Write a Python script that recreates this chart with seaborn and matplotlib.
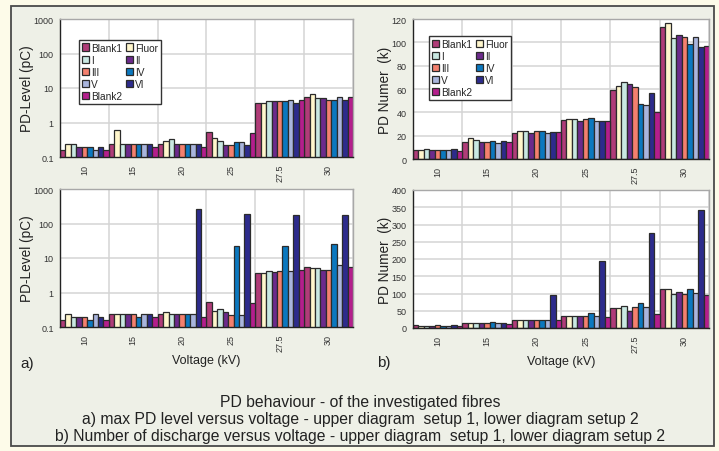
import matplotlib
matplotlib.use("Agg")
import matplotlib.pyplot as plt
import matplotlib.patches as mpatches
from matplotlib.ticker import MultipleLocator, LogLocator, NullFormatter
import seaborn as sns
import pandas as pd

voltages = ["10", "15", "20", "25", "27.5", "30"]
samples = ["Blank1", "Fluor", "I", "II", "III", "IV", "V", "VI", "Blank2"]
sample_colors = ["#b03c78", "#fff6cc", "#c9e8e2", "#6c2a8c", "#f4806e",
                 "#0b78bf", "#a9b5dd", "#2d2b8c", "#b41e8c"]

# one row per voltage, one value per sample (same order as `samples`)
level_setup1 = [
    [0.16, 0.24, 0.24, 0.19, 0.19, 0.19, 0.16, 0.19, 0.16],
    [0.24, 0.59, 0.24, 0.24, 0.24, 0.24, 0.24, 0.24, 0.19],
    [0.24, 0.30, 0.34, 0.24, 0.24, 0.24, 0.24, 0.24, 0.19],
    [0.54, 0.36, 0.30, 0.23, 0.23, 0.27, 0.27, 0.23, 0.50],
    [3.7, 3.7, 4.3, 4.2, 4.2, 4.3, 4.6, 3.7, 4.4],
    [5.4, 6.7, 5.0, 5.0, 4.4, 4.6, 5.4, 4.6, 5.6],
]
number_setup1 = [
    [8, 7.5, 8.5, 7.5, 8, 8, 7.5, 8.5, 6.5],
    [15, 18, 16, 15, 15, 15.5, 14, 15.5, 14.5],
    [22.5, 24, 24, 22.5, 24, 24, 22.5, 23, 23.5],
    [33.5, 34, 34, 33, 34, 35, 33, 32.5, 32.5],
    [59, 62.5, 66, 64, 61.5, 47, 46.5, 57, 40.5],
    [113.5, 117, 104, 106.5, 104.5, 98.5, 105, 96, 97],
]
level_setup2 = [
    [0.16, 0.24, 0.19, 0.19, 0.19, 0.16, 0.24, 0.19, 0.16],
    [0.24, 0.24, 0.24, 0.24, 0.24, 0.19, 0.24, 0.24, 0.19],
    [0.24, 0.27, 0.24, 0.24, 0.24, 0.24, 0.24, 270, 0.19],
    [0.54, 0.30, 0.33, 0.27, 0.23, 23, 0.23, 190, 0.51],
    [3.6, 3.6, 4.2, 4.0, 4.1, 23, 4.2, 175, 4.4],
    [5.4, 5.0, 5.0, 4.4, 4.4, 26, 6.3, 175, 5.6],
]
number_setup2 = [
    [8, 7, 7, 7, 8, 7, 7, 8, 6],
    [14, 14, 14, 14, 14, 16, 14, 14, 13],
    [22, 23, 23, 23, 23, 24, 24, 96, 23],
    [34, 34, 34, 34, 35, 44, 35, 194, 32],
    [59, 58, 64, 48, 62, 73, 62, 275, 40],
    [114, 114, 100, 103, 99, 113, 101, 343, 97],
]

caption = [
    "PD behaviour - of the investigated fibres",
    "a) max PD level versus voltage - upper diagram  setup 1, lower diagram setup 2",
    "b) Number of discharge versus voltage - upper diagram  setup 1, lower diagram setup 2",
]


def to_frame(values):
    rows = []
    for v, row in zip(voltages, values):
        for s, val in zip(samples, row):
            rows.append((v, s, val))
    return pd.DataFrame(rows, columns=["voltage", "sample", "value"])


def draw_panel(ax, values, log, ylim, yticks, ylabel, legend_at=None, xlabel=None):
    sns.barplot(data=to_frame(values), x="voltage", y="value", hue="sample",
                order=voltages, hue_order=samples, palette=sample_colors,
                width=1.0, gap=0, dodge=True, errorbar=None, legend=False,
                edgecolor="#2b2b2b", linewidth=0.9, saturation=1, ax=ax)
    ax.set_facecolor("white")
    ax.set_axisbelow(True)
    if log:
        ax.set_yscale("log")
        ax.yaxis.set_minor_locator(LogLocator(base=10, subs=range(2, 10)))
        ax.yaxis.set_minor_formatter(NullFormatter())
    else:
        ax.yaxis.set_minor_locator(MultipleLocator(yticks[1] / 4))
    ax.set_ylim(*ylim)
    ax.set_yticks(yticks)
    ax.set_yticklabels([f"{t:g}" for t in yticks])
    ax.set_xlim(-0.5, len(voltages) - 0.5)
    ax.set_xticks(range(len(voltages)))
    ax.set_xticklabels(voltages, rotation=90)
    ax.set_xticks([i - 0.5 for i in range(len(voltages) + 1)], minor=True)

    ax.grid(True, axis="y", which="major", color="#d4d4d4", lw=1.1)
    ax.grid(True, axis="x", which="minor", color="#d4d4d4", lw=1.1)
    ax.grid(False, axis="x", which="major")
    ax.tick_params(axis="x", which="major", length=0, pad=5, labelsize=6.5, colors="#333333")
    ax.tick_params(axis="x", which="minor", length=3, direction="out", color="#222222")
    ax.tick_params(axis="y", which="major", length=5, direction="inout", labelsize=6.5,
                   pad=2, colors="#333333")
    ax.tick_params(axis="y", which="minor", length=2.5, direction="inout", color="#222222")
    for side in ("left", "bottom"):
        ax.spines[side].set_color("#222222")
        ax.spines[side].set_linewidth(1.0)
    for side in ("top", "right"):
        ax.spines[side].set_visible(True)
        ax.spines[side].set_color("#a8a8a8")
        ax.spines[side].set_linewidth(1.0)

    ax.set_ylabel(ylabel, fontsize=9.8, labelpad=0, color="#222222")
    if xlabel:
        ax.set_xlabel(xlabel, fontsize=9, labelpad=2, color="#222222")
    else:
        ax.set_xlabel("")

    if legend_at is not None:
        order = [0, 2, 4, 6, 8, 1, 3, 5, 7]
        handles = [mpatches.Patch(facecolor=sample_colors[i], edgecolor="#2b2b2b", lw=0.9)
                   for i in order]
        ax.legend(handles, [samples[i] for i in order], ncol=2, loc="upper left",
                  bbox_to_anchor=legend_at, fontsize=7.3, frameon=True, fancybox=False,
                  edgecolor="#333333", framealpha=1, handlelength=0.7, handleheight=0.75,
                  handletextpad=0.2, columnspacing=0.4, labelspacing=0.2,
                  borderpad=0.3, borderaxespad=0)


sns.set_style("white")
plt.rcParams["font.family"] = ["Liberation Sans", "DejaVu Sans"]

fig = plt.figure(figsize=(7.19, 4.52), dpi=100)
fig.patch.set_facecolor("#fdfbe9")
W, H = 719.0, 452.0
fig.add_artist(mpatches.Rectangle((11 / W, 1 - 447 / H), 703 / W, 440 / H,
                                  transform=fig.transFigure, facecolor="#eef0e7",
                                  edgecolor="#4a4a4a", lw=1.3, zorder=-1))

ax_tl = fig.add_axes([60 / W, 1 - 158 / H, 293 / W, 138 / H])
ax_tr = fig.add_axes([413 / W, 1 - 160 / H, 296 / W, 140 / H])
ax_bl = fig.add_axes([60 / W, 1 - 328 / H, 293 / W, 138 / H])
ax_br = fig.add_axes([413 / W, 1 - 329 / H, 296 / W, 138 / H])

log_ticks = [0.1, 1, 10, 100, 1000]
draw_panel(ax_tl, level_setup1, True, (0.1, 1000), log_ticks, "PD-Level (pC)",
           legend_at=(0.065, 0.85))
draw_panel(ax_tr, number_setup1, False, (0, 120), list(range(0, 121, 20)), "PD Numer  (k)",
           legend_at=(0.054, 0.88))
draw_panel(ax_bl, level_setup2, True, (0.1, 1000), log_ticks, "PD-Level (pC)",
           xlabel="Voltage (kV)")
draw_panel(ax_br, number_setup2, False, (0, 400), list(range(0, 401, 50)), "PD Numer  (k)",
           xlabel="Voltage (kV)")

fig.text(20 / W, 1 - 364 / H, "a)", fontsize=11, va="center", color="#222222")
fig.text(377 / W, 1 - 363 / H, "b)", fontsize=11, va="center", color="#222222")

for y, line in zip([402, 420, 437], caption):
    fig.text(360 / W, 1 - y / H, line, fontsize=11.3, ha="center", va="center", color="#222222")

fig.savefig("out.png", dpi=100, facecolor=fig.get_facecolor())
